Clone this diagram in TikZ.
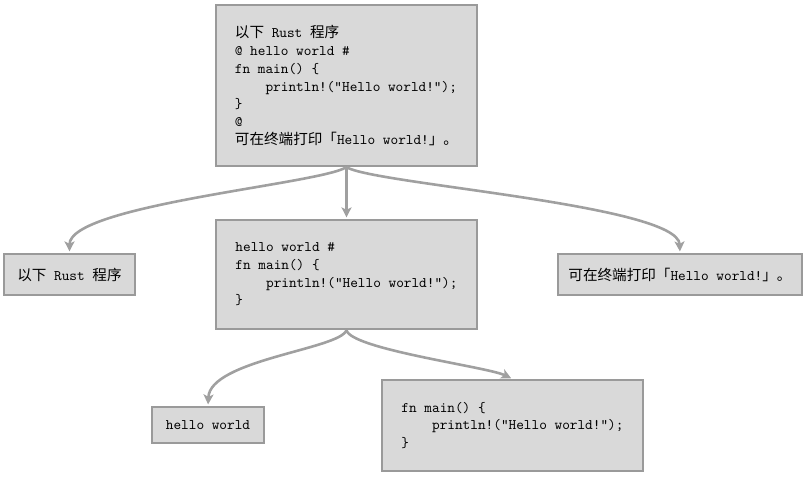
\documentclass[tikz,border=0pt]{standalone}
\usepackage{fontspec}
\newfontfamily\cjk{Noto Sans CJK SC}[Scale=1.0]
\usetikzlibrary{arrows.meta}
\definecolor{boxfill}{HTML}{D9D9D9}
\definecolor{boxline}{HTML}{9A9A9A}
\definecolor{edgecol}{HTML}{A0A0A0}
\def\px{0.72pt}
\begin{document}
\begin{tikzpicture}[x=0.72pt,y=-0.72pt,
  box/.style={draw=boxline, line width=2.2*\px, fill=boxfill, align=left, inner sep=0pt,
    font=\fontsize{10.5}{12.75}\selectfont\ttfamily},
  edge/.style={draw=edgecol, line width=2.6*\px, shorten >=1.5*\px,
    -{Stealth[length=10*\px,width=10*\px,inset=2.5*\px]}}]
\useasboundingbox (0,0) rectangle (807,478);
\node[box, minimum width=261*\px, minimum height=161*\px] (root) at (346.5,85.5)
  {{\cjk 以下} Rust {\cjk 程序}\\
   @ hello world \#\\
   fn main() \{\\
   \hphantom{xxxx}println!("Hello world!");\\
   \}\\
   @\\
   {\cjk 可在终端打印「}Hello world!{\cjk 」。}};
\node[box, minimum width=131*\px, minimum height=41*\px] (left) at (69.5,274.5)
  {{\cjk 以下} Rust {\cjk 程序}};
\node[box, minimum width=261*\px, minimum height=109*\px] (mid) at (346.5,274.5)
  {hello world \#\\
   fn main() \{\\
   \hphantom{xxxx}println!("Hello world!");\\
   \}};
\node[box, minimum width=244*\px, minimum height=41*\px] (right) at (680,274.5)
  {{\cjk 可在终端打印「}Hello world!{\cjk 」。}};
\node[box, minimum width=112*\px, minimum height=36*\px] (hello) at (208,425)
  {hello world};
\node[box, minimum width=261*\px, minimum height=91*\px] (fnbox) at (512.5,425.5)
  {fn main() \{\\
   \hphantom{xxxx}println!("Hello world!");\\
   \}};
\draw[edge] (root.south) .. controls +(-26,17) and +(0,-48) .. (left.north);
\draw[edge] (root.south) -- (mid.north);
\draw[edge] (root.south) .. controls +(26,17) and +(-2,-48) .. (right.north);
\draw[edge] (mid.south) .. controls +(-6,19) and +(2,-46) .. (hello.north);
\draw[edge] (mid.south) .. controls +(4,19) and +(-25,-12) .. (fnbox.north);
\end{tikzpicture}
\end{document}
